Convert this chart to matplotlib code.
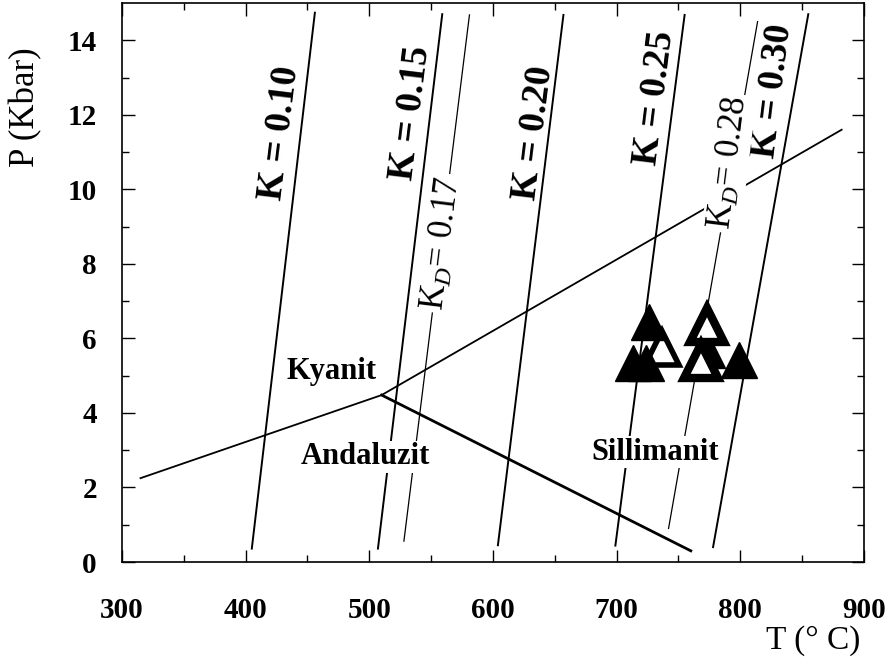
import numpy as np
import matplotlib
matplotlib.use("Agg")
import matplotlib.pyplot as plt

plt.rcParams['font.family'] = ['Liberation Serif', 'DejaVu Serif']
plt.rcParams['mathtext.fontset'] = 'custom'
plt.rcParams['mathtext.rm'] = 'Liberation Serif'
plt.rcParams['mathtext.it'] = 'Liberation Serif:italic'

# phase boundaries (T in C, P in kbar)
ky_and_T = [315, 510]
ky_and_P = [2.25, 4.48]
ky_sil_T = [510, 882]
ky_sil_P = [4.48, 11.6]
and_sil_T = [510, 760]
and_sil_P = [4.48, 0.30]

# K isopleths: label, (T bottom, T top), (P bottom, P top)
k_names = ["K = 0.10", "K = 0.15", "K = 0.20", "K = 0.25", "K = 0.30"]
k_T = [(405, 456), (507, 559), (604, 657), (699, 755), (778, 855)]
k_P = [(0.36, 14.74), (0.36, 14.70), (0.45, 14.68), (0.44, 14.68), (0.40, 14.70)]
k_lab_T = [427.5, 533.5, 633, 731, 826.5]
k_lab_P = [11.5, 12.05, 11.5, 12.45, 12.65]

kd_names = ["K$_D$= 0.17", "K$_D$= 0.28"]
kd_T = [(528, 581), (742, 814)]
kd_P = [(0.56, 14.68), (0.90, 14.50)]
kd_lab_T = [559, 791]
kd_lab_P = [8.55, 10.7]

phase_names = ["Kyanit", "Andaluzit", "Sillimanit"]
phase_T = [469.5, 496.5, 731]
phase_P = [5.1, 2.83, 2.95]

# samples
filled_T = [726, 713, 724, 773, 799]
filled_P = [6.45, 5.35, 5.35, 5.70, 5.42]
open_under_T = [737]
open_under_P = [5.75]
open_over_T = [773, 768]
open_over_P = [6.35, 5.40]

fig = plt.figure(figsize=(8.87, 6.67), dpi=100)
ax = fig.add_axes([0.1375, 0.1574, 0.8365, 0.8381])

ax.plot(ky_and_T, ky_and_P, color='black', lw=1.3)
ax.plot(ky_sil_T, ky_sil_P, color='black', lw=1.3)
ax.plot(and_sil_T, and_sil_P, color='black', lw=2.0)

for name, T, P, lt, lp in zip(k_names, k_T, k_P, k_lab_T, k_lab_P):
    ax.plot(T, P, color='black', lw=1.4)
    ax.text(lt, lp, name, rotation=83, rotation_mode='anchor', ha='center', va='center',
            fontsize=27, fontweight='bold', fontstyle='normal')

for name, T, P, lt, lp in zip(kd_names, kd_T, kd_P, kd_lab_T, kd_lab_P):
    ax.plot(T, P, color='black', lw=0.9)
    ax.text(lt, lp, name, rotation=83, rotation_mode='anchor', ha='center', va='center',
            fontsize=25, fontstyle='normal', zorder=5,
            bbox=dict(facecolor='white', edgecolor='none', pad=2))

for name, T, P in zip(phase_names, phase_T, phase_P):
    ax.text(T, P, name, ha='center', va='center', fontsize=22, fontweight='bold', zorder=5,
            bbox=dict(facecolor='white', edgecolor='none', pad=1))

ax.plot(open_under_T, open_under_P, '^', ms=25, mfc='white', mec='black', mew=4, zorder=6)
ax.plot(filled_T, filled_P, '^', ms=26, color='black', zorder=7)
ax.plot(open_over_T, open_over_P, '^', ms=25, mfc='white', mec='black', mew=6, zorder=8)

ax.set_xlim(300, 900)
ax.set_ylim(0, 15)
ax.set_xticks(np.arange(300, 901, 100))
ax.set_xticks(np.arange(350, 900, 50), minor=True)
ax.set_yticks(np.arange(0, 15, 2))
ax.set_yticks(np.arange(1, 15, 1), minor=True)
ax.tick_params(which='both', direction='in', top=True, right=True, width=1)
ax.tick_params(which='major', length=9)
ax.tick_params(which='minor', length=5)
ax.tick_params(axis='x', which='major', pad=25, labelsize=21)
ax.tick_params(axis='y', which='major', pad=18, labelsize=21)
for lab in ax.get_xticklabels() + ax.get_yticklabels():
    lab.set_fontweight('bold')
for sp in ax.spines.values():
    sp.set_linewidth(1.2)

ax.set_ylabel("P (Kbar)", fontsize=25)
ax.yaxis.set_label_coords(-0.107, 0.814)
ax.set_xlabel("T (° C)", fontsize=24, loc='right')
ax.xaxis.set_label_coords(0.995, -0.113)

fig.savefig("out.png", dpi=100)
